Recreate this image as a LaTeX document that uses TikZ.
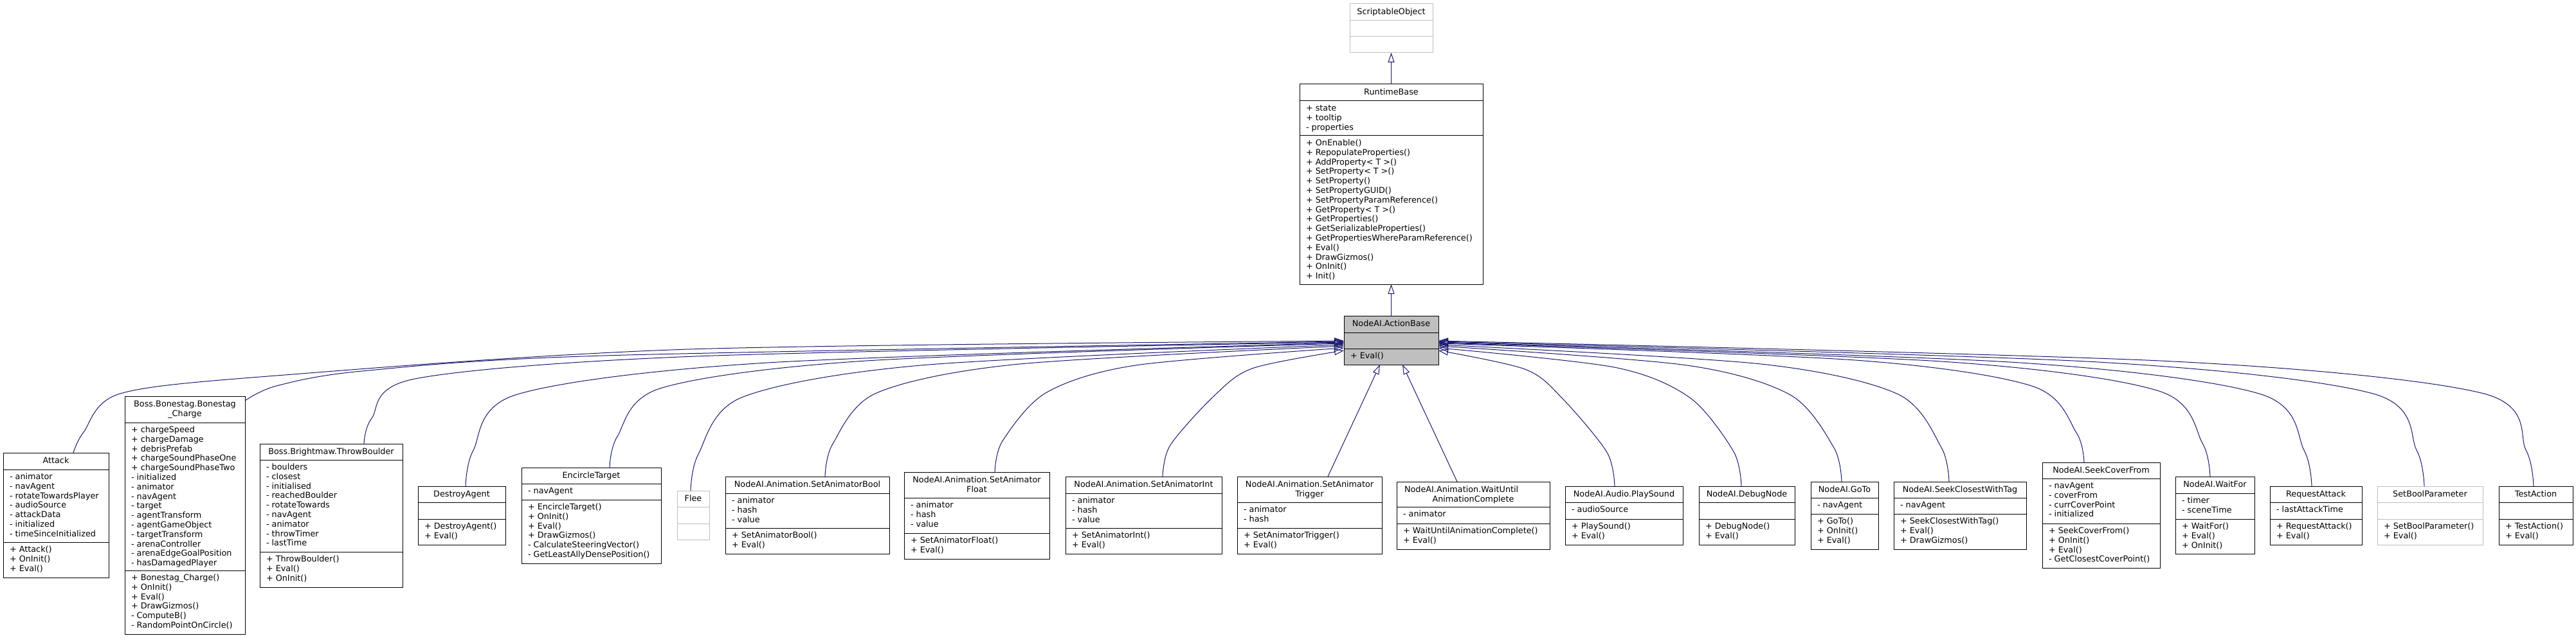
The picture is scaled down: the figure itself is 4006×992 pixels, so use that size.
\documentclass[tikz,border=0pt]{standalone}
\usepackage{fontspec}
\setmainfont{DejaVu Sans}
\usetikzlibrary{arrows.meta,calc}
\definecolor{edgeblue}{HTML}{191970}
\definecolor{boxgray}{HTML}{BFBFBF}
\definecolor{linegray}{HTML}{BFBFBF}
\tikzset{
  clsbox/.style={rectangle, line width=1pt, inner sep=0pt, outer sep=0pt},
  txt/.style={font=\fontsize{12.8}{14.8}\selectfont, inner sep=0pt, outer sep=0pt, text=black},
  inh/.style={draw=edgeblue, line width=1pt, -{Triangle[open,length=15pt,width=10pt]}},
}
% class box: #1 name #2 draw colour #3 fill #4 x1 #5 y1 #6 x2 #7 y2 #8 sep1 #9 sep2
\newcommand\cls[9]{%
  \pgfmathsetmacro\bw{#6-#4}\pgfmathsetmacro\bh{#7-#5}%
  \node[clsbox, draw=#2, fill=#3, minimum width=\bw pt, minimum height=\bh pt, anchor=north west] (#1) at (#4,#5) {};
  \draw[draw=#2, line width=1pt] (#4,#8) -- (#6,#8) (#4,#9) -- (#6,#9);
  \def\bname{#1}\def\bxa{#4}\def\bxb{#6}\def\bya{#5}\def\bsa{#8}\def\bsb{#9}}
\newcommand\ctitle[1]{\node[txt, align=center, anchor=north] (\bname-t) at ({(\bxa+\bxb)/2}, \bya+5.6) {\rule{0pt}{11pt}#1};}
\newcommand\cattr[1]{\node[txt, align=left, anchor=north west] (\bname-a) at (\bxa+10, \bsa+4.5) {\rule{0pt}{11pt}#1};}
\newcommand\cmeth[1]{\node[txt, align=left, anchor=north west] (\bname-m) at (\bxa+10, \bsb+4.5) {\rule{0pt}{11pt}#1};}
% inheritance curve: #1 child name #2 cx #3 top y #4 end x #5 end y
\newcommand\inhcurve[5]{%
  \pgfmathsetmacro\dX{#4-#2}%
  \pgfmathsetmacro\sg{(\dX>0)?1:-1}%
  \pgfmathsetmacro\adX{abs(\dX)}%
  \pgfmathsetmacro\dY{#3-#5}%
  \pgfmathsetmacro\ax{#2+\sg*12}\pgfmathsetmacro\ay{#5+0.75*\dY}%
  \pgfmathsetmacro\kx{#2+\sg*80}\pgfmathsetmacro\ky{#5+0.36*\dY}%
  \pgfmathsetmacro\mx{\kx+\sg*0.3*(\adX-80)}\pgfmathsetmacro\my{#5+0.14*\dY}%
  \coordinate (#1-out) at (#2,#3);
  \coordinate (#1-in) at (#4,#5);
  \draw[inh] plot[smooth] coordinates {(#1-out) (\ax,\ay) (\kx,\ky) (\mx,\my) (#1-in)};
}
\begin{document}
\begin{tikzpicture}[x=1pt,y=-1pt]
\useasboundingbox (0,0) rectangle (4006,992);
\fill[white] (0,0) rectangle (4006,992);

% top hierarchy
\cls{so}{linegray}{white}{2099}{6}{2228}{82}{32}{57}
\ctitle{ScriptableObject}
\cls{rb}{black}{white}{2021}{131}{2306}{442}{157}{211}
\ctitle{RuntimeBase}
\cattr{+ state\\+ tooltip\\- properties}
\cmeth{+ OnEnable()\\+ RepopulateProperties()\\+ AddProperty< T >()\\+ SetProperty< T >()\\+ SetProperty()\\+ SetPropertyGUID()\\+ SetPropertyParamReference()\\+ GetProperty< T >()\\+ GetProperties()\\+ GetSerializableProperties()\\+ GetPropertiesWhereParamReference()\\+ Eval()\\+ DrawGizmos()\\+ OnInit()\\+ Init()}
\cls{ab}{black}{boxgray}{2090}{491}{2237}{567}{517}{542}
\ctitle{NodeAI.ActionBase}
\cmeth{+ Eval()}

% children
\cls{attack}{black}{white}{5}{704}{169}{898}{730}{843}
\ctitle{Attack}
\cattr{- animator\\- navAgent\\- rotateTowardsPlayer\\- audioSource\\- attackData\\- initialized\\- timeSinceInitialized}
\cmeth{+ Attack()\\+ OnInit()\\+ Eval()}

\cls{bonestag}{black}{white}{194}{616}{381}{986}{657}{887}
\ctitle{Boss.Bonestag.Bonestag\\\_Charge}
\cattr{+ chargeSpeed\\+ chargeDamage\\+ debrisPrefab\\+ chargeSoundPhaseOne\\+ chargeSoundPhaseTwo\\- initialized\\- animator\\- navAgent\\- target\\- agentTransform\\- agentGameObject\\- targetTransform\\- arenaController\\- arenaEdgeGoalPosition\\- hasDamagedPlayer}
\cmeth{+ Bonestag\_Charge()\\+ OnInit()\\+ Eval()\\+ DrawGizmos()\\- ComputeB()\\- RandomPointOnCircle()}

\cls{throwb}{black}{white}{404}{690}{626}{913}{715}{858}
\ctitle{Boss.Brightmaw.ThrowBoulder}
\cattr{- boulders\\- closest\\- initialised\\- reachedBoulder\\- rotateTowards\\- navAgent\\- animator\\- throwTimer\\- lastTime}
\cmeth{+ ThrowBoulder()\\+ Eval()\\+ OnInit()}

\cls{destroy}{black}{white}{650}{756}{786}{847}{781}{807}
\ctitle{DestroyAgent}
\cmeth{+ DestroyAgent()\\+ Eval()}

\cls{encircle}{black}{white}{811}{727}{1028}{876}{752}{777}
\ctitle{EncircleTarget}
\cattr{- navAgent}
\cmeth{+ EncircleTarget()\\+ OnInit()\\+ Eval()\\+ DrawGizmos()\\- CalculateSteeringVector()\\- GetLeastAllyDensePosition()}

\cls{flee}{linegray}{white}{1053}{763}{1103}{839}{788}{814}
\ctitle{Flee}

\cls{setbool}{black}{white}{1128}{741}{1383}{861}{767}{821}
\ctitle{NodeAI.Animation.SetAnimatorBool}
\cattr{- animator\\- hash\\- value}
\cmeth{+ SetAnimatorBool()\\+ Eval()}

\cls{setfloat}{black}{white}{1406}{734}{1632}{869}{774}{829}
\ctitle{NodeAI.Animation.SetAnimator\\Float}
\cattr{- animator\\- hash\\- value}
\cmeth{+ SetAnimatorFloat()\\+ Eval()}

\cls{setint}{black}{white}{1657}{741}{1900}{861}{767}{821}
\ctitle{NodeAI.Animation.SetAnimatorInt}
\cattr{- animator\\- hash\\- value}
\cmeth{+ SetAnimatorInt()\\+ Eval()}

\cls{settrig}{black}{white}{1924}{741}{2149}{861}{781}{821}
\ctitle{NodeAI.Animation.SetAnimator\\Trigger}
\cattr{- animator\\- hash}
\cmeth{+ SetAnimatorTrigger()\\+ Eval()}

\cls{waitanim}{black}{white}{2172}{749}{2410}{854}{788}{814}
\ctitle{\makebox[214pt][l]{NodeAI.Animation.WaitUntil}\\AnimationComplete}
\cattr{- animator}
\cmeth{+ WaitUntilAnimationComplete()\\+ Eval()}

\cls{playsound}{black}{white}{2434}{756}{2617}{847}{781}{807}
\ctitle{NodeAI.Audio.PlaySound}
\cattr{- audioSource}
\cmeth{+ PlaySound()\\+ Eval()}

\cls{debugnode}{black}{white}{2642}{756}{2791}{847}{781}{807}
\ctitle{NodeAI.DebugNode}
\cmeth{+ DebugNode()\\+ Eval()}

\cls{goto}{black}{white}{2816}{749}{2921}{854}{774}{799}
\ctitle{NodeAI.GoTo}
\cattr{- navAgent}
\cmeth{+ GoTo()\\+ OnInit()\\+ Eval()}

\cls{seekclosest}{black}{white}{2945}{749}{3151}{854}{774}{799}
\ctitle{NodeAI.SeekClosestWithTag}
\cattr{- navAgent}
\cmeth{+ SeekClosestWithTag()\\+ Eval()\\+ DrawGizmos()}

\cls{seekcover}{black}{white}{3176}{719}{3359}{883}{744}{814}
\ctitle{NodeAI.SeekCoverFrom}
\cattr{- navAgent\\- coverFrom\\- currCoverPoint\\- initialized}
\cmeth{+ SeekCoverFrom()\\+ OnInit()\\+ Eval()\\- GetClosestCoverPoint()}

\cls{waitfor}{black}{white}{3383}{741}{3506}{861}{767}{807}
\ctitle{NodeAI.WaitFor}
\cattr{- timer\\- sceneTime}
\cmeth{+ WaitFor()\\+ Eval()\\+ OnInit()}

\cls{reqattack}{black}{white}{3530}{756}{3673}{847}{781}{807}
\ctitle{RequestAttack}
\cattr{- lastAttackTime}
\cmeth{+ RequestAttack()\\+ Eval()}

\cls{setboolparam}{linegray}{white}{3697}{756}{3861}{847}{781}{807}
\ctitle{SetBoolParameter}
\cmeth{+ SetBoolParameter()\\+ Eval()}

\cls{testaction}{black}{white}{3886}{756}{4001}{847}{781}{807}
\ctitle{TestAction}
\cmeth{+ TestAction()\\+ Eval()}

% connectors
\draw[inh] (rb.north) -- (so.south);
\draw[inh] (ab.north) -- (rb.south);

\coordinate (attack-out) at (114,704);
\coordinate (attack-in) at (2090,530);
\draw[inh] plot[smooth] coordinates {(attack-out) (130,672) (187,612) (430,584) (1072,543) (attack-in)};
\coordinate (bonestag-out) at (381,623);
\coordinate (bonestag-in) at (2090,531);
\draw[inh] plot[smooth] coordinates {(bonestag-out) (430,600) (563,577) (938,553) (bonestag-in)};

\inhcurve{throwb}{566}{690}{2090}{532}
\inhcurve{destroy}{724}{756}{2090}{533}
\inhcurve{encircle}{948}{727}{2090}{534}
\inhcurve{flee}{1074}{763}{2090}{536}
\inhcurve{setbool}{1283}{741}{2090}{538}
\inhcurve{setfloat}{1547}{734}{2090}{541}
\inhcurve{setint}{1808}{741}{2090}{545}

\coordinate (settrig-out) at (2065,741);
\coordinate (ab-bl) at (2146,567);
\draw[inh] (settrig-out) -- (ab-bl);
\coordinate (waitanim-out) at (2266,749);
\coordinate (ab-br) at (2181,567);
\draw[inh] (waitanim-out) -- (ab-br);

\inhcurve{playsound}{2511}{756}{2237}{545}
\inhcurve{debugnode}{2708}{756}{2237}{541}
\inhcurve{goto}{2864}{749}{2237}{538}
\inhcurve{seekclosest}{3031}{749}{2237}{536}
\inhcurve{seekcover}{3241}{719}{2237}{534}
\inhcurve{waitfor}{3437}{741}{2237}{533}
\inhcurve{reqattack}{3595}{756}{2237}{532}
\inhcurve{setboolparam}{3770}{756}{2237}{531}
\inhcurve{testaction}{3940}{756}{2237}{530}
\end{tikzpicture}
\end{document}
